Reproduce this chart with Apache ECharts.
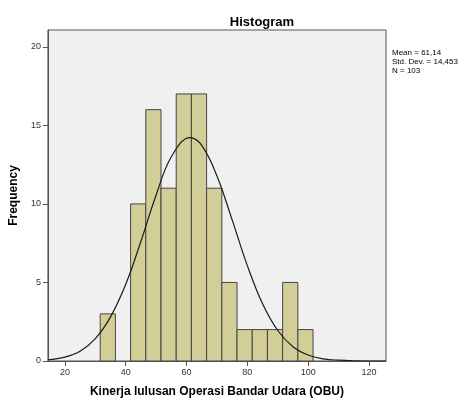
<!DOCTYPE html>
<html>
<head>
<meta charset="utf-8">
<script src="https://cdn.jsdelivr.net/npm/echarts@6/dist/echarts.min.js"></script>
<style>
    html, body { margin: 0; padding: 0; background: #fff; }
    #main { width: 465px; height: 403px; }
</style>
</head>
<body>
<div id="main"></div>
<script>
// histogram bins (width 5)
const binStarts = [31.6, 41.6, 46.6, 51.6, 56.6, 61.6, 66.6, 71.6, 76.6, 81.6, 86.6, 91.6, 96.6]
const binWidth = 5
const counts = [3, 10, 16, 11, 17, 17, 11, 5, 2, 2, 2, 5, 2]

// normal curve, points
const curveX = [14.4, 20, 25, 30, 35, 40, 45, 50, 55, 61.14, 65, 70, 75, 80, 85, 90, 95, 100, 105, 110, 115, 120, 125.6]
const curveY = [0.08, 0.25, 0.62, 1.42, 2.81, 4.88, 7.62, 10.57, 13.0, 14.22, 13.72, 11.78, 8.98, 6.07, 3.64, 1.94, 0.91, 0.38, 0.14, 0.05, 0.01, 0, 0]

const xTicks = [20, 40, 60, 80, 100, 120]
const yTicks = [0, 5, 10, 15, 20]

const statsLines = ['Mean = 61,14', 'Std. Dev. = 14,453', 'N = 103']

let chart = echarts.init(document.getElementById('main'))

let barData = binStarts.map((s, i) => [s, s + binWidth, counts[i]])
let curveData = curveX.map((x, i) => [x, curveY[i]])

let option = {
    animation: false,
    backgroundColor: '#fff',
    textStyle: {fontFamily: 'Liberation Sans, Arial, sans-serif'},
    title: {
        text: 'Histogram',
        left: 257,
        top: 11,
        textAlign: 'center',
        textStyle: {fontSize: 13, fontWeight: 'bold', color: '#000'}
    },
    graphic: [{
        type: 'text',
        left: 392,
        top: 48,
        style: {
            text: statsLines.join('\n'),
            font: '8px "Liberation Sans", Arial, sans-serif',
            lineHeight: 9,
            fill: '#000'
        }
    }],
    grid: {
        left: 47,
        right: 79,
        top: 30,
        bottom: 37,
        show: true,
        backgroundColor: '#f0f0f0',
        borderColor: '#555',
        borderWidth: 1
    },
    xAxis: {
        type: 'value',
        min: 14.4,
        max: 125.6,
        name: 'Kinerja lulusan Operasi Bandar Udara (OBU)',
        nameLocation: 'middle',
        nameGap: 25,
        nameTextStyle: {fontSize: 12, fontWeight: 'bold', color: '#000'},
        splitLine: {show: false},
        axisLine: {show: true, onZero: false, lineStyle: {color: '#555'}},
        axisTick: {show: true, length: 5, customValues: xTicks, lineStyle: {color: '#555'}},
        axisLabel: {customValues: xTicks, fontSize: 9, color: '#333', margin: 7}
    },
    yAxis: {
        type: 'value',
        min: 0,
        max: 21.07,
        name: 'Frequency',
        nameLocation: 'middle',
        nameGap: 23,
        nameTextStyle: {fontSize: 12, fontWeight: 'bold', color: '#000'},
        splitLine: {show: false},
        axisLine: {show: true, lineStyle: {color: '#555'}},
        axisTick: {show: true, length: 5, customValues: yTicks, lineStyle: {color: '#555'}},
        axisLabel: {customValues: yTicks, fontSize: 9, color: '#333', margin: 7}
    },
    series: [
        {
            type: 'custom',
            data: barData,
            encode: {x: [0, 1], y: 2},
            renderItem: function (params, api) {
                let p0 = api.coord([api.value(0), api.value(2)])
                let p1 = api.coord([api.value(1), 0])
                return {
                    type: 'rect',
                    shape: {x: p0[0], y: p0[1], width: p1[0] - p0[0], height: p1[1] - p0[1]},
                    style: {fill: '#d3ce97', stroke: '#454545', lineWidth: 1}
                }
            },
            silent: true
        },
        {
            type: 'line',
            data: curveData,
            smooth: 0.4,
            symbol: 'none',
            lineStyle: {color: '#1a1a1a', width: 1.2},
            silent: true,
            z: 3
        }
    ]
}
chart.setOption(option)
</script>
</body>
</html>
